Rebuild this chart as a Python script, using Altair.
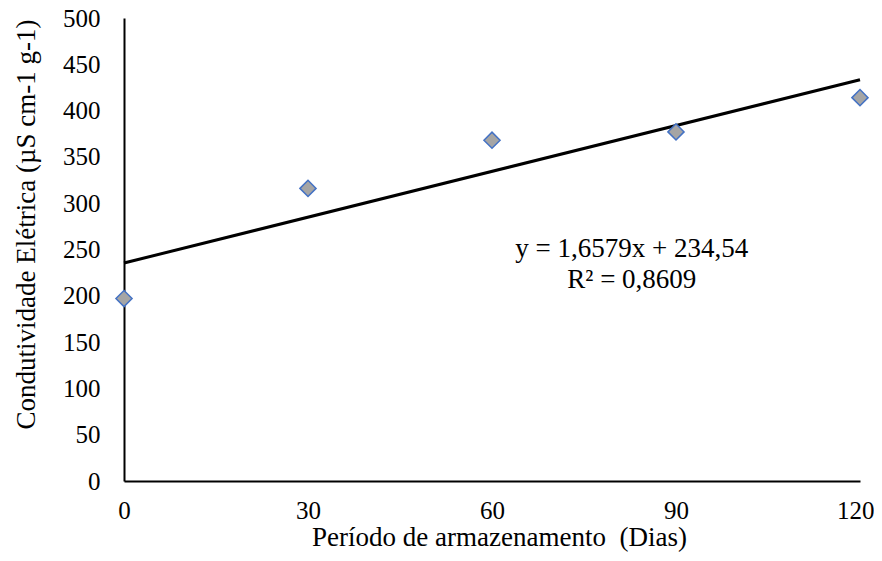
import altair as alt
import pandas as pd

dias = [0, 30, 60, 90, 120]
condutividade = [197, 316, 368, 377, 414]
eq_lines = ["y = 1,6579x + 234,54", "R² = 0,8609"]
eq_x = [82.8, 82.8]
eq_y = [251, 217]
x_ticks = [0, 30, 60, 90, 120]
y_ticks = list(range(0, 501, 50))

df = pd.DataFrame({"x": dias, "y": condutividade})
ann = pd.DataFrame({"x": eq_x, "y": eq_y, "t": eq_lines})

FONT = "Liberation Serif"

xs = alt.Scale(domain=[0, 120], nice=False, zero=False)
ys = alt.Scale(domain=[0, 500], nice=False)

base = alt.Chart(df)

is_last = alt.datum.value == 120

trend = base.transform_regression("x", "y", extent=[0, 120]).mark_line(
    color="black", strokeWidth=3
).encode(
    x=alt.X("x:Q", scale=xs,
            axis=alt.Axis(values=x_ticks,
                          title="Período de armazenamento\u00a0\u00a0(Dias)",
                          titleX=375,
                          labelAlign=alt.condition(is_last, alt.value("right"), alt.value("center")),
                          labelOffset=alt.condition(is_last, alt.value(14), alt.value(0)))),
    y=alt.Y("y:Q", scale=ys,
            axis=alt.Axis(values=y_ticks,
                          title="Condutividade Elétrica (µS cm-1 g-1)",
                          titleY=206)),
)

pts = base.mark_point(
    shape="diamond", filled=True, fill="#a5a5a5", stroke="#4472c4",
    strokeWidth=1.5, size=260, opacity=1
).encode(x=alt.X("x:Q", scale=xs), y=alt.Y("y:Q", scale=ys))

txt = alt.Chart(ann).mark_text(
    font=FONT, fontSize=27, color="black", align="center", baseline="middle"
).encode(x=alt.X("x:Q", scale=xs), y=alt.Y("y:Q", scale=ys), text="t:N")

chart = alt.layer(trend, pts, txt).properties(
    width=736, height=463,
    autosize=alt.AutoSizeParams(type="none"),
    padding={"left": 116, "top": 10, "right": 14, "bottom": 80},
).configure_view(stroke=None).configure_axis(
    grid=False, ticks=False, domainColor="black", domainWidth=2,
    labelFont=FONT, labelFontSize=25, labelColor="black", labelFlush=False,
    labelOverlap=False,
    titleFont=FONT, titleFontSize=27, titleColor="black", titleFontWeight="normal",
).configure_axisY(
    labelPadding=24, titlePadding=22
).configure_axisX(
    labelPadding=17, titlePadding=1
)

chart.save("out.html", embed_options={"renderer": "svg", "actions": False})
